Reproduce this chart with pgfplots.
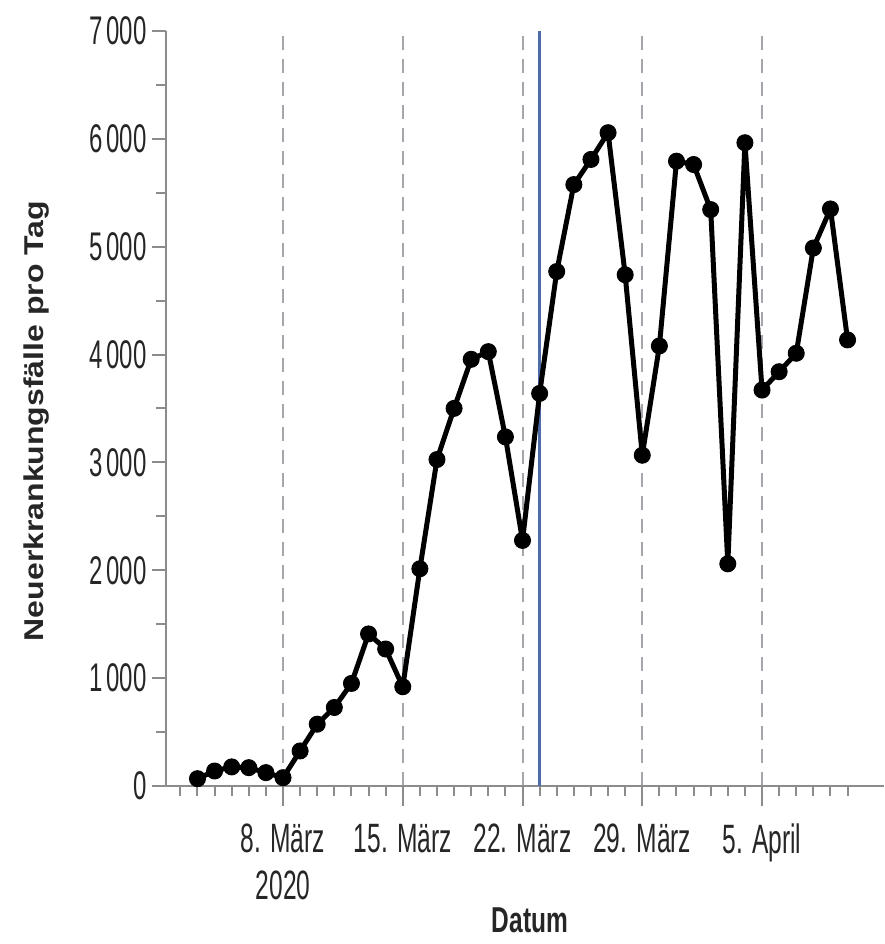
\documentclass[border=0pt]{standalone}
\usepackage{pgfplots}
\pgfplotsset{compat=1.18}
\usepackage{fontspec}
\setmainfont{Liberation Sans}
\definecolor{axgray}{RGB}{140,140,140}
\definecolor{dashgray}{RGB}{165,165,172}
\definecolor{vblue}{RGB}{78,108,168}
\begin{document}
\begin{tikzpicture}
\path[use as bounding box] (-166pt,-158pt) rectangle (718pt,786pt);
\begin{axis}[
  at={(0pt,0pt)}, anchor=south west,
  scale only axis, width=718pt, height=755pt,
  xmin=1.16, xmax=43.13, ymin=0, ymax=7000,
  axis lines*=left, tick pos=left,
  axis line style={axgray, line width=2.5pt},
  tick align=outside,
  major tick length=14pt, minor tick length=10pt,
  tick style={axgray, line width=2pt},
  xtick style={/pgfplots/major tick length=20pt},
  xtick={8,15,22,29,36},
  minor xtick={2,...,41},
  xticklabels={{8. März\\2020},{15. März},{22. März},{29. März},{5. April}},
  xticklabel style={font=\fontsize{41}{47}\selectfont, align=center, xscale=0.6, inner sep=0pt, yshift=-24pt, text=black!85},
  ytick={0,1000,...,7000},
  minor ytick={500,1500,...,6500},
  yticklabels={0,1\,000,2\,000,3\,000,4\,000,5\,000,6\,000,7\,000},
  yticklabel style={font=\fontsize{40}{48}\selectfont, xscale=0.6, inner sep=0pt, xshift=-9pt, text=black!85},
  xmajorgrids,
  major x grid style={dashgray, line width=2pt, dash pattern=on 14pt off 9pt},
  xlabel={\fontsize{36}{43}\selectfont\bfseries Datum},
  xlabel style={at={(axis description cs:0.507,-0.1775)}, anchor=center, inner sep=0pt, xscale=0.68, text=black!85},
  ylabel={\scalebox{1}[0.85]{\fontsize{32}{38}\selectfont\bfseries Neuerkrankungsfälle pro Tag}},
  ylabel style={at={(axis description cs:-0.1797,0.4834)}, anchor=center, inner sep=0pt, text=black!85},
  clip=false,
]
\addplot[vblue, line width=3pt] coordinates {(23,0) (23,7000)};
\addplot[black, line width=5pt, line join=round, mark=*, mark size=8pt,
  mark options={fill=black, line width=1pt}] table {
x y
3 68
4 139
5 177
6 170
7 124
8 77
9 325
10 573
11 728
12 951
13 1410
14 1270
15 920
16 2014
17 3027
18 3501
19 3956
20 4027
21 3237
22 2277
23 3640
24 4770
25 5576
26 5809
27 6057
28 4740
29 3067
30 4080
31 5793
32 5762
33 5344
34 2060
35 5964
36 3671
37 3841
38 4012
39 4988
40 5350
41 4136
};
\end{axis}
\end{tikzpicture}
\end{document}
